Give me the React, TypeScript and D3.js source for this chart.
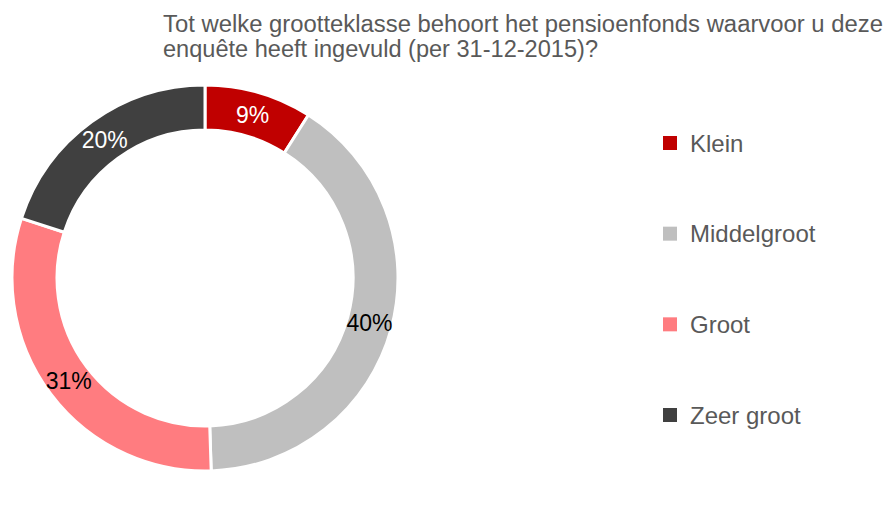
import React from "react";
import * as d3 from "d3";

const categories = ["Klein", "Middelgroot", "Groot", "Zeer groot"];
const values = [9.0, 40.49, 30.51, 20.0];
const colors = ["#C00000", "#BFBFBF", "#FF7C80", "#404040"];
const labelColors = ["#FFFFFF", "#000000", "#000000", "#FFFFFF"];
const titleLines = [
  "Tot welke grootteklasse behoort het pensioenfonds waarvoor u deze",
  "enquête heeft ingevuld (per 31-12-2015)?",
];

const W = 891;
const H = 511;
const cx = 205;
const cy = 278;
const rOuter = 193;
const rInner = 148;
const font = "'Liberation Sans', Arial, sans-serif";

export default function App() {
  const pie = d3.pie<number>().sort(null).value((d) => d)(values);
  const arc = d3.arc<d3.PieArcDatum<number>>().innerRadius(rInner).outerRadius(rOuter);
  const labelArc = d3
    .arc<d3.PieArcDatum<number>>()
    .innerRadius((rInner + rOuter) / 2)
    .outerRadius((rInner + rOuter) / 2);
  const legendY = d3.scalePoint<string>().domain(categories).range([143, 415]);

  return (
    <svg
      width={W}
      height={H}
      style={{ position: "absolute", left: 0, top: 0, background: "#fff" }}
    >
      <rect width={W} height={H} fill="#fff" />
      <g fontFamily={font} fill="#595959" fontSize={23.5}>
        <text x={163} y={32} textLength={720} lengthAdjust="spacingAndGlyphs">
          {titleLines[0]}
        </text>
        <text x={163} y={57} textLength={435} lengthAdjust="spacingAndGlyphs">
          {titleLines[1]}
        </text>
      </g>
      <g transform={`translate(${cx},${cy})`}>
        {pie.map((p, i) => (
          <path key={i} d={arc(p) || ""} fill={colors[i]} stroke="#fff" strokeWidth={3} />
        ))}
        {pie.map((p, i) => {
          const [x, y] = labelArc.centroid(p);
          return (
            <text
              key={"l" + i}
              x={x}
              y={y}
              dy="0.36em"
              textAnchor="middle"
              fontFamily={font}
              fontSize={23}
              fill={labelColors[i]}
            >
              {Math.round(values[i])}%
            </text>
          );
        })}
      </g>
      <g fontFamily={font} fontSize={24} fill="#595959">
        {categories.map((c, i) => (
          <g key={c} transform={`translate(0,${legendY(c)})`}>
            <rect x={663} y={-7} width={14} height={14} fill={colors[i]} />
            <text x={690} y={0} dy="0.36em">
              {c}
            </text>
          </g>
        ))}
      </g>
    </svg>
  );
}
